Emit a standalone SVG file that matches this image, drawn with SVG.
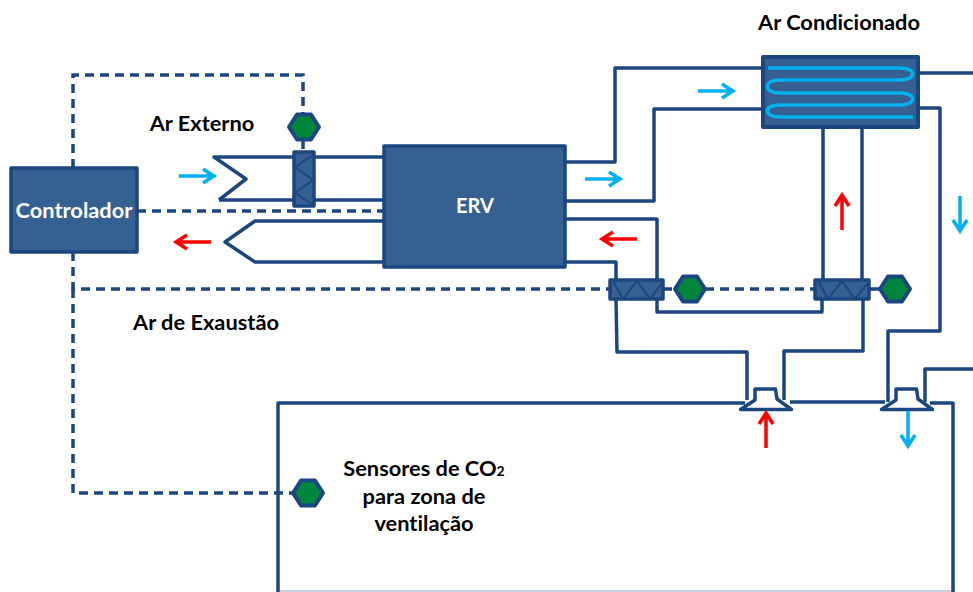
<svg xmlns="http://www.w3.org/2000/svg" width="973" height="592" viewBox="0 0 973 592">
<style>
.duct{fill:none;stroke:#1c4680;stroke-width:3.5;stroke-linejoin:round}
.ctl{fill:none;stroke:#1c4680;stroke-width:3.5;stroke-dasharray:9 6}
.box{fill:#376092;stroke:#1c4680;stroke-width:3.5;stroke-linejoin:round}
.zig{fill:none;stroke:#1c4680;stroke-width:2}
.hex{fill:#00863d;stroke:#1c4680;stroke-width:4;stroke-linejoin:round}
.dif{fill:#fff;stroke:#1c4680;stroke-width:3.5;stroke-linejoin:round}
.blue{fill:none;stroke:#00b0f0;stroke-width:3.500}
.red{fill:none;stroke:#ff0000;stroke-width:3.500}
text{font-family:"Lato","Open Sans","Liberation Sans",sans-serif;font-weight:700;font-size:21.800px;fill:#000;text-anchor:middle;font-variant-ligatures:none}
.w{fill:#fff}
</style>
<defs>
<path id="hexshape" class="hex" d="M-15,0L-7,-12.500H7L15,0L7,12.500H-7Z"/>
<path id="diff" class="dif" d="M-25.500,6.500L-11,-3V-14H9.500L11,-4L25.500,6.500Z"/>
<path id="arrR" d="M-18,0H16M6,-7L17,0L6,7"/>
</defs>
<g id="connectors">
<path class="ctl" d="M73,168V75H303V113"/>
<path class="ctl" d="M303,140V152"/>
<path class="ctl" d="M137,211H384"/>
<path class="ctl" d="M73,252V289H610"/>
<path class="ctl" d="M73,289V493H294"/>
<path class="ctl" d="M663,289H675"/>
<path class="ctl" d="M705,289H815"/>
<path class="duct" d="M869,289H880"/>
<path class="duct" d="M219,200L246,179L214,157H294"/>
<path class="duct" d="M219,200H294"/>
<path class="duct" d="M314,157H384M314,200H384"/>
<path class="duct" d="M384,221H255L225,242L255,262H384"/>
<path class="duct" d="M565,162H615V68H763"/>
<path class="duct" d="M565,201H654V109H763"/>
<path class="duct" d="M565,219H657V280"/>
<path class="duct" d="M565,262H616V280"/>
<path class="duct" d="M823,127V280M862,127V280"/>
<path class="duct" d="M657,299V312H822V299"/>
<path class="duct" d="M616,299L617,352H747V400"/>
<path class="duct" d="M863,299V351H784V400"/>
<path class="duct" d="M918,73H973"/>
<path class="duct" d="M918,108H940V331H888V402"/>
<path class="duct" d="M925,402V369H973"/>
</g>
<g id="zona">
<path class="duct" d="M278,592V403H745M790,402H885M930,403H953V592"/>
<path d="M278,591H953" fill="none" stroke="#1c4680" stroke-width="1" opacity="0.5"/>
</g>
<g id="controlador"><rect class="box" x="11" y="168" width="126" height="84"/><text class="w" x="74" y="218">Controlador</text></g>
<g id="erv"><rect class="box" x="384" y="146" width="181" height="121"/><text class="w" x="475" y="213" font-size="20" style="font-size:20px">ERV</text></g>
<g id="serpentina">
<rect class="box" x="763" y="57" width="155" height="70" style="stroke-width:4"/>
<path class="blue" d="M768,68H900C917,68 917,80 900,80H780C763,80 763,93 780,93H900C917,93 917,105 900,105H780C763,105 763,117 780,117H913"/>
</g>
<g id="damper-externo"><rect class="box" x="294" y="152" width="20" height="54"/><path class="zig" d="M313,155L295,167L313,180L295,193L313,205"/></g>
<g id="damper-retorno"><rect class="box" x="610" y="280" width="53" height="19"/><path class="zig" d="M613,281L623,299L637,281L650,299L662,283"/></g>
<g id="damper-ar"><rect class="box" x="815" y="280" width="54" height="19"/><path class="zig" d="M818,281L828,299L842,281L855,299L868,283"/></g>
<use id="sensor-externo" href="#hexshape" x="304" y="127"/>
<use id="sensor-retorno" href="#hexshape" x="690" y="289"/>
<use id="sensor-ar" href="#hexshape" x="895" y="289"/>
<use id="sensor-zona" href="#hexshape" x="308" y="493"/>
<use id="difusor-retorno" href="#diff" x="766" y="403"/>
<use id="difusor-insuflamento" href="#diff" x="907" y="403"/>
<g id="setas">
<use class="blue" href="#arrR" x="197" y="176"/>
<use class="blue" href="#arrR" x="716" y="91"/>
<use class="blue" href="#arrR" x="603" y="179"/>
<use class="red" href="#arrR" transform="translate(193,242) rotate(180)"/>
<use class="red" href="#arrR" transform="translate(619,239) rotate(180)"/>
<use class="red" href="#arrR" transform="translate(842,212) rotate(-90)"/>
<use class="red" href="#arrR" transform="translate(766,430) rotate(-90)"/>
<use class="blue" href="#arrR" transform="translate(960,214) rotate(90)"/>
<use class="blue" href="#arrR" transform="translate(908,429) rotate(90)"/>
</g>
<g id="rotulos">
<text x="202" y="131">Ar Externo</text>
<text x="206" y="330">Ar de Exaustão</text>
<text x="839" y="30">Ar Condicionado</text>
<text x="424" y="476">Sensores de CO<tspan font-size="14">2</tspan></text>
<text x="424" y="504">para zona de</text>
<text x="424" y="531">ventilação</text>
</g>
</svg>
